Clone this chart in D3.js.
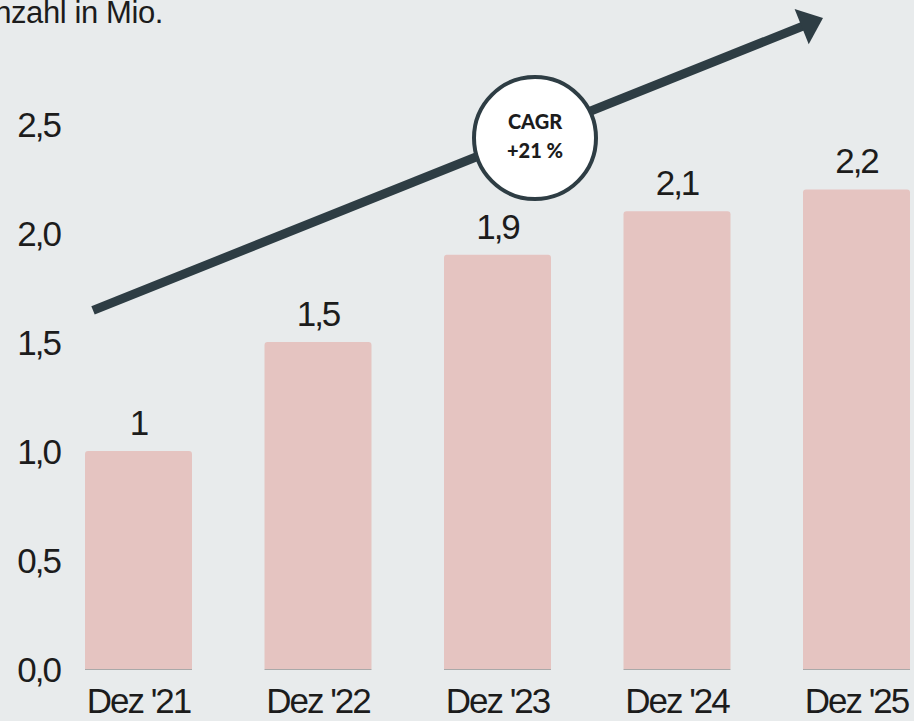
<!DOCTYPE html>
<html>
<head>
<meta charset="utf-8">
<script src="https://cdn.jsdelivr.net/npm/d3@7/dist/d3.min.js"></script>
<style>
  html, body { margin: 0; padding: 0; background: #e8ebec; }
  svg { display: block; }
  text { font-family: "Liberation Sans", Arial, sans-serif; fill: #1c1c1c; }
</style>
</head>
<body>
<svg id="chart" width="914" height="721"></svg>
<script>
// Number of users (millions), December of each year
const categories = ["Dez '21", "Dez '22", "Dez '23", "Dez '24", "Dez '25"];
const values = [1.0, 1.5, 1.9, 2.1, 2.2];
const valueLabels = ["1", "1,5", "1,9", "2,1", "2,2"];
const yTicks = [0, 0.5, 1.0, 1.5, 2.0, 2.5];
const yTickLabels = ["0,0", "0,5", "1,0", "1,5", "2,0", "2,5"];
const title = "Anzahl in Mio.";
const cagrLines = ["CAGR", "+21 %"];

const W = 914, H = 721;
const svg = d3.select("#chart");

const x = d3.scaleBand()
  .domain(categories)
  .range([48.75, 946.25])
  .paddingInner(0.404)
  .paddingOuter(0.202);

const y = d3.scaleLinear()
  .domain([0, 2.5])
  .range([669, 124]);

// title (its first letter runs off the left edge)
svg.append("text")
  .attr("x", 163).attr("y", 23)
  .attr("text-anchor", "end")
  .style("font-size", "31px")
  .style("letter-spacing", "-0.4px")
  .text(title);

// y axis labels
const yAxis = d3.axisLeft(y)
  .tickValues(yTicks)
  .tickFormat((d, i) => yTickLabels[i])
  .tickSize(0)
  .tickPadding(0);
const yg = svg.append("g").attr("transform", "translate(60,0)").call(yAxis);
yg.select(".domain").remove();
yg.selectAll("text")
  .attr("dy", "0.36em")
  .style("font-size", "35px")
  .style("letter-spacing", "-2px")
  .style("font-family", "'Liberation Sans', Arial, sans-serif")
  .attr("fill", "#1c1c1c");

// x axis labels
const xAxis = d3.axisBottom(x).tickSize(0).tickPadding(0);
const xg = svg.append("g").attr("transform", "translate(0,688)").call(xAxis);
xg.select(".domain").remove();
xg.selectAll("text")
  .attr("dy", "0.72em")
  .style("font-size", "35px")
  .style("letter-spacing", "-2px")
  .style("font-family", "'Liberation Sans', Arial, sans-serif")
  .attr("fill", "#1c1c1c");

// bars with slightly rounded top corners
const r = 3;
function barPath(d) {
  const x0 = x(d.c), x1 = x0 + x.bandwidth();
  const y0 = y(0), y1 = y(d.v);
  return `M${x0},${y0} L${x0},${y1 + r} Q${x0},${y1} ${x0 + r},${y1} L${x1 - r},${y1} Q${x1},${y1} ${x1},${y1 + r} L${x1},${y0} Z`;
}
const data = categories.map((c, i) => ({ c, v: values[i], label: valueLabels[i] }));

svg.append("g").selectAll("path")
  .data(data)
  .join("path")
  .attr("d", barPath)
  .attr("fill", "#e5c4c1");

// thin base line under each bar
svg.append("g").selectAll("line")
  .data(data)
  .join("line")
  .attr("x1", d => x(d.c))
  .attr("x2", d => x(d.c) + x.bandwidth())
  .attr("y1", y(0) + 0.5)
  .attr("y2", y(0) + 0.5)
  .attr("stroke", "#a9a9a9")
  .attr("stroke-width", 1);

// value labels
svg.append("g").selectAll("text")
  .data(data)
  .join("text")
  .attr("x", d => x(d.c) + x.bandwidth() / 2)
  .attr("y", d => y(d.v) - 16)
  .attr("text-anchor", "middle")
  .style("font-size", "35px")
  .style("letter-spacing", "-2px")
  .text(d => d.label);

// growth arrow
const arrowColor = "#2e3d44";
const start = [x(categories[0]) + 8, y(1.645)];
const tip = [x(categories[4]) + 20, y(2.986)];
const ang = Math.atan2(tip[1] - start[1], tip[0] - start[0]);
const headLen = 23, headHalf = 19;
const base = [tip[0] - headLen * Math.cos(ang), tip[1] - headLen * Math.sin(ang)];
const nx = -Math.sin(ang), ny = Math.cos(ang);

svg.append("line")
  .attr("x1", start[0]).attr("y1", start[1])
  .attr("x2", base[0] + 2 * Math.cos(ang)).attr("y2", base[1] + 2 * Math.sin(ang))
  .attr("stroke", arrowColor)
  .attr("stroke-width", 9);

svg.append("polygon")
  .attr("points", [
    tip,
    [base[0] + nx * headHalf, base[1] + ny * headHalf],
    [base[0] - nx * headHalf, base[1] - ny * headHalf]
  ].map(p => p.join(",")).join(" "))
  .attr("fill", arrowColor);

// CAGR badge
const cx = 535, cy = 138;
svg.append("circle")
  .attr("cx", cx).attr("cy", cy).attr("r", 61)
  .attr("fill", "#ffffff")
  .attr("stroke", arrowColor)
  .attr("stroke-width", 4);

svg.append("g").selectAll("text")
  .data(cagrLines)
  .join("text")
  .attr("x", cx)
  .attr("y", (d, i) => cy - 9 + i * 29)
  .attr("text-anchor", "middle")
  .style("font-family", "Lato, 'Open Sans', sans-serif")
  .style("font-weight", "900")
  .style("font-size", "20px")
  .attr("fill", "#111")
  .text(d => d);
</script>
</body>
</html>
